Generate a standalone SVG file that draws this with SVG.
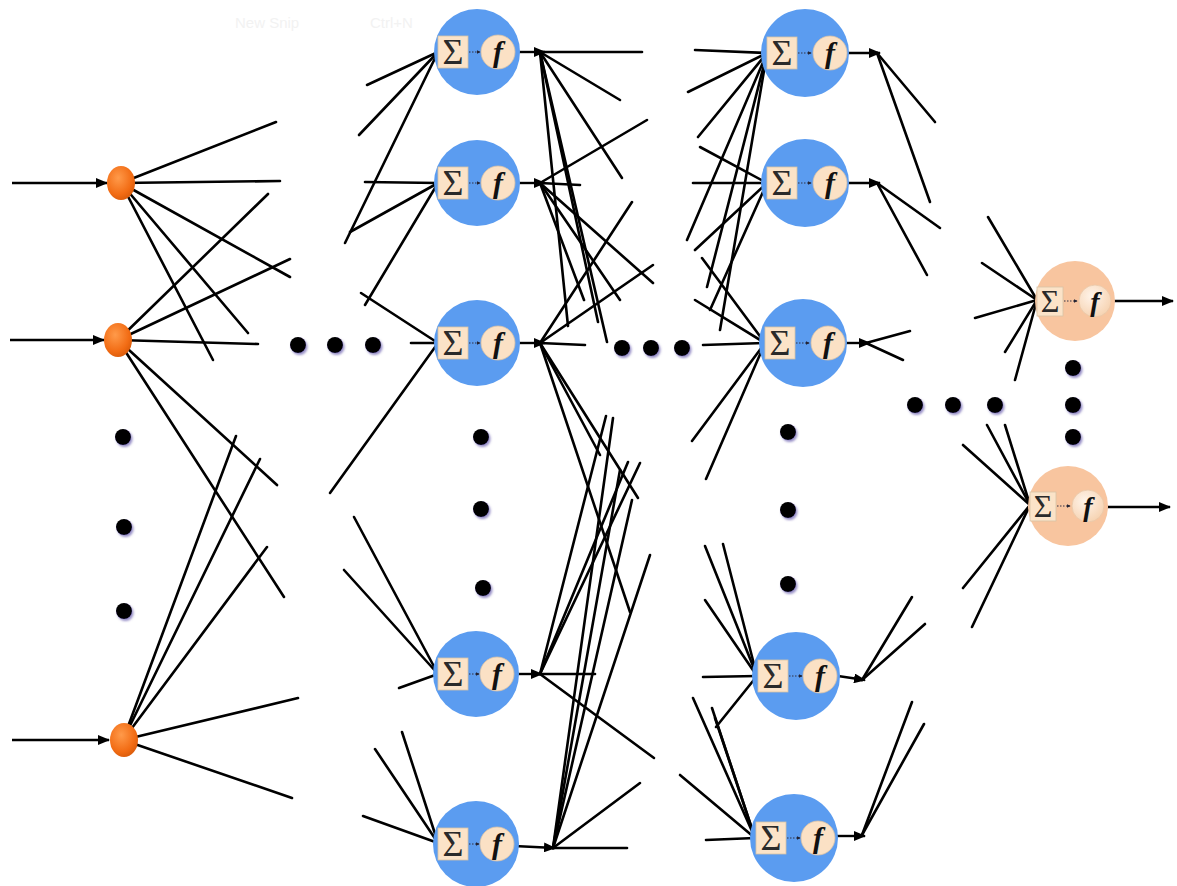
<svg xmlns="http://www.w3.org/2000/svg" width="1177" height="886" viewBox="0 0 1177 886">
<defs>
<marker id="ah" viewBox="0 0 12 10" refX="11" refY="5" markerWidth="12" markerHeight="10" markerUnits="userSpaceOnUse" orient="auto"><path d="M0,0 L12,5 L0,10 z" fill="#000"/></marker>
<marker id="sm" viewBox="0 0 6 6" refX="5" refY="3" markerWidth="4" markerHeight="4" markerUnits="userSpaceOnUse" orient="auto"><path d="M0,0 L6,3 L0,6 z" fill="#223"/></marker>
<radialGradient id="og" cx="0.4" cy="0.35" r="0.7"><stop offset="0" stop-color="#ff9a4a"/><stop offset="0.7" stop-color="#f26c14"/><stop offset="1" stop-color="#d85a0a"/></radialGradient>
<radialGradient id="fg" cx="0.4" cy="0.35" r="0.7"><stop offset="0" stop-color="#fff4ea"/><stop offset="1" stop-color="#f6d2b0"/></radialGradient>
<filter id="sh" x="-50%" y="-50%" width="200%" height="200%"><feDropShadow dx="1.5" dy="2" stdDeviation="1" flood-color="#5040a0" flood-opacity="0.6"/></filter>
</defs>
<style>
.ln{stroke:#000;stroke-width:2.6;stroke-linecap:round;fill:none}
.ar{stroke:#000;stroke-width:2.4;fill:none;marker-end:url(#ah)}
.hb{fill:#5b9cf0}
.ob{fill:#f8c59f}
.sb{fill:#fbe3c8;stroke:#d8c3a6;stroke-width:0.8}
.fc{fill:#fbe1c5;stroke:#d9c2a5;stroke-width:0.8}
.fo{fill:url(#fg);stroke:#e8c8a8;stroke-width:0.8}
.sig{font-family:"Liberation Serif",serif;font-size:36px;fill:#2a2a2a;text-anchor:middle}
.fx{font-family:"Liberation Serif",serif;font-style:italic;font-weight:bold;font-size:30px;fill:#111;text-anchor:middle}
.lk{stroke:#334;stroke-width:1;stroke-dasharray:1.5 1.5;marker-end:url(#sm)}
.dot{fill:#000;filter:url(#sh)}
.ghost{font-family:"Liberation Sans",sans-serif;font-size:15px;fill:#f2f2f2}
</style>
<rect width="1177" height="886" fill="#fff"/>
<text class="ghost" x="235" y="28">New Snip</text>
<text class="ghost" x="370" y="28">Ctrl+N</text>

<g id="connectors">
<line class="ar" x1="12" y1="183" x2="107" y2="183"/>
<line class="ar" x1="10" y1="340" x2="104" y2="340"/>
<line class="ar" x1="12" y1="740" x2="109" y2="740"/>
<g class="ln">
<line x1="121" y1="183" x2="276" y2="122"/><line x1="121" y1="183" x2="280" y2="181"/><line x1="121" y1="183" x2="290" y2="277"/><line x1="121" y1="183" x2="248" y2="333"/><line x1="121" y1="183" x2="213" y2="360"/>
<line x1="118" y1="340" x2="268" y2="194"/><line x1="118" y1="340" x2="290" y2="259"/><line x1="118" y1="340" x2="258" y2="344"/><line x1="118" y1="340" x2="277" y2="485"/><line x1="118" y1="340" x2="284" y2="597"/>
<line x1="123" y1="740" x2="236" y2="436"/><line x1="123" y1="740" x2="260" y2="459"/><line x1="123" y1="740" x2="267" y2="547"/><line x1="123" y1="740" x2="298" y2="698"/><line x1="123" y1="740" x2="292" y2="798"/>
<line x1="438" y1="52" x2="367" y2="85"/><line x1="438" y1="52" x2="359" y2="135"/><line x1="438" y1="52" x2="345" y2="243"/>
<line x1="438" y1="183" x2="365" y2="182"/><line x1="438" y1="183" x2="350" y2="232"/><line x1="438" y1="183" x2="365" y2="305"/>
<line x1="438" y1="343" x2="361" y2="293"/><line x1="438" y1="343" x2="411" y2="343"/><line x1="438" y1="343" x2="330" y2="493"/>
<line x1="438" y1="674" x2="354" y2="517"/><line x1="438" y1="674" x2="344" y2="570"/><line x1="438" y1="674" x2="399" y2="688"/>
<line x1="438" y1="843" x2="402" y2="732"/><line x1="438" y1="843" x2="375" y2="749"/><line x1="438" y1="843" x2="363" y2="816"/>
<line x1="540" y1="52" x2="642" y2="52"/><line x1="540" y1="52" x2="620" y2="100"/><line x1="540" y1="52" x2="622" y2="178"/><line x1="540" y1="52" x2="568" y2="326"/><line x1="540" y1="52" x2="598" y2="322"/><line x1="540" y1="52" x2="607" y2="342"/>
<line x1="540" y1="183" x2="580" y2="185"/><line x1="540" y1="183" x2="647" y2="120"/><line x1="540" y1="183" x2="653" y2="283"/><line x1="540" y1="183" x2="620" y2="300"/><line x1="540" y1="183" x2="584" y2="300"/>
<line x1="540" y1="343" x2="585" y2="345"/><line x1="540" y1="343" x2="632" y2="202"/><line x1="540" y1="343" x2="653" y2="265"/><line x1="540" y1="343" x2="638" y2="498"/><line x1="540" y1="343" x2="630" y2="612"/><line x1="540" y1="343" x2="600" y2="455"/>
<line x1="540" y1="674" x2="595" y2="674"/><line x1="540" y1="674" x2="654" y2="758"/><line x1="540" y1="674" x2="606" y2="416"/><line x1="540" y1="674" x2="628" y2="462"/><line x1="540" y1="674" x2="640" y2="463"/>
<line x1="553" y1="848" x2="627" y2="848"/><line x1="553" y1="848" x2="640" y2="783"/><line x1="553" y1="848" x2="613" y2="418"/><line x1="553" y1="848" x2="632" y2="500"/><line x1="553" y1="848" x2="650" y2="555"/><line x1="553" y1="848" x2="620" y2="470"/>
<line x1="767" y1="53" x2="695" y2="50"/><line x1="767" y1="53" x2="688" y2="92"/><line x1="767" y1="53" x2="698" y2="137"/><line x1="767" y1="53" x2="687" y2="240"/><line x1="767" y1="53" x2="707" y2="287"/><line x1="767" y1="53" x2="720" y2="330"/>
<line x1="767" y1="183" x2="700" y2="147"/><line x1="767" y1="183" x2="693" y2="183"/><line x1="767" y1="183" x2="695" y2="250"/><line x1="767" y1="183" x2="710" y2="310"/>
<line x1="765" y1="343" x2="702" y2="258"/><line x1="765" y1="343" x2="695" y2="300"/><line x1="765" y1="343" x2="703" y2="345"/><line x1="765" y1="343" x2="692" y2="441"/><line x1="765" y1="343" x2="706" y2="479"/>
<line x1="757" y1="676" x2="705" y2="546"/><line x1="757" y1="676" x2="723" y2="544"/><line x1="757" y1="676" x2="705" y2="600"/><line x1="757" y1="676" x2="703" y2="677"/><line x1="757" y1="676" x2="716" y2="727"/>
<line x1="755" y1="838" x2="693" y2="698"/><line x1="755" y1="838" x2="712" y2="708"/><line x1="755" y1="838" x2="715" y2="718"/><line x1="755" y1="838" x2="680" y2="775"/><line x1="755" y1="838" x2="706" y2="840"/>
<line x1="877" y1="53" x2="935" y2="122"/><line x1="877" y1="53" x2="930" y2="202"/>
<line x1="877" y1="183" x2="940" y2="228"/><line x1="877" y1="183" x2="927" y2="275"/>
<line x1="866" y1="343" x2="910" y2="331"/><line x1="866" y1="343" x2="903" y2="360"/>
<line x1="862" y1="680" x2="912" y2="597"/><line x1="862" y1="680" x2="925" y2="624"/>
<line x1="862" y1="835" x2="912" y2="702"/><line x1="862" y1="835" x2="924" y2="724"/>
<line x1="1037" y1="300" x2="988" y2="217"/><line x1="1037" y1="300" x2="982" y2="263"/><line x1="1037" y1="300" x2="975" y2="318"/><line x1="1037" y1="300" x2="1005" y2="352"/><line x1="1037" y1="300" x2="1015" y2="380"/>
<line x1="1030" y1="505" x2="987" y2="425"/><line x1="1030" y1="505" x2="1005" y2="425"/><line x1="1030" y1="505" x2="963" y2="445"/><line x1="1030" y1="505" x2="963" y2="588"/><line x1="1030" y1="505" x2="972" y2="627"/>
</g>
<line class="ar" x1="516" y1="52" x2="545" y2="52"/>
<line class="ar" x1="516" y1="183" x2="545" y2="183"/>
<line class="ar" x1="516" y1="343" x2="545" y2="343"/>
<line class="ar" x1="515" y1="674" x2="542" y2="674"/>
<line class="ar" x1="514" y1="846" x2="555" y2="848"/>
<line class="ar" x1="847" y1="53" x2="880" y2="53"/>
<line class="ar" x1="846" y1="183" x2="880" y2="183"/>
<line class="ar" x1="844" y1="343" x2="870" y2="343"/>
<line class="ar" x1="838" y1="676" x2="865" y2="680"/>
<line class="ar" x1="835" y1="836" x2="865" y2="836"/>
<line class="ar" x1="1111" y1="301" x2="1173" y2="301"/>
<line class="ar" x1="1104" y1="507" x2="1170" y2="507"/>
</g>

<g id="in1"><ellipse cx="121" cy="183" rx="14" ry="17" fill="url(#og)"/></g>
<g id="in2"><ellipse cx="118" cy="340" rx="14" ry="17" fill="url(#og)"/></g>
<g id="in3"><ellipse cx="124" cy="740" rx="14" ry="17" fill="url(#og)"/></g>

<g id="h1a" transform="translate(477,52)"><circle class="hb" r="43"/><rect class="sb" x="-39" y="-16" width="30" height="32"/><text class="sig" x="-24" y="12">Σ</text><line class="lk" x1="-8" y1="0" x2="3" y2="0"/><circle class="fc" cx="21" r="17"/><text class="fx" x="21" y="10">f</text></g>
<g id="h1b" transform="translate(477,183)"><circle class="hb" r="43"/><rect class="sb" x="-39" y="-16" width="30" height="32"/><text class="sig" x="-24" y="12">Σ</text><line class="lk" x1="-8" y1="0" x2="3" y2="0"/><circle class="fc" cx="21" r="17"/><text class="fx" x="21" y="10">f</text></g>
<g id="h1c" transform="translate(477,343)"><circle class="hb" r="43"/><rect class="sb" x="-39" y="-16" width="30" height="32"/><text class="sig" x="-24" y="12">Σ</text><line class="lk" x1="-8" y1="0" x2="3" y2="0"/><circle class="fc" cx="21" r="17"/><text class="fx" x="21" y="10">f</text></g>
<g id="h1d" transform="translate(476,674)"><circle class="hb" r="43"/><rect class="sb" x="-38" y="-16" width="30" height="32"/><text class="sig" x="-23" y="12">Σ</text><line class="lk" x1="-7" y1="0" x2="3" y2="0"/><circle class="fc" cx="21" r="17"/><text class="fx" x="21" y="10">f</text></g>
<g id="h1e" transform="translate(476,844)"><circle class="hb" r="43"/><rect class="sb" x="-38" y="-16" width="30" height="32"/><text class="sig" x="-23" y="12">Σ</text><line class="lk" x1="-7" y1="0" x2="3" y2="0"/><circle class="fc" cx="21" r="17"/><text class="fx" x="21" y="10">f</text></g>

<g id="h2a" transform="translate(805,53)"><circle class="hb" r="44"/><rect class="sb" x="-38" y="-16" width="30" height="32"/><text class="sig" x="-23" y="12">Σ</text><line class="lk" x1="-7" y1="0" x2="6" y2="0"/><circle class="fc" cx="25" r="17"/><text class="fx" x="25" y="10">f</text></g>
<g id="h2b" transform="translate(805,183)"><circle class="hb" r="44"/><rect class="sb" x="-38" y="-16" width="30" height="32"/><text class="sig" x="-23" y="12">Σ</text><line class="lk" x1="-7" y1="0" x2="6" y2="0"/><circle class="fc" cx="25" r="17"/><text class="fx" x="25" y="10">f</text></g>
<g id="h2c" transform="translate(803,343)"><circle class="hb" r="44"/><rect class="sb" x="-38" y="-16" width="30" height="32"/><text class="sig" x="-23" y="12">Σ</text><line class="lk" x1="-7" y1="0" x2="6" y2="0"/><circle class="fc" cx="25" r="17"/><text class="fx" x="25" y="10">f</text></g>
<g id="h2d" transform="translate(796,676)"><circle class="hb" r="44"/><rect class="sb" x="-38" y="-16" width="30" height="32"/><text class="sig" x="-23" y="12">Σ</text><line class="lk" x1="-7" y1="0" x2="6" y2="0"/><circle class="fc" cx="24" r="17"/><text class="fx" x="24" y="10">f</text></g>
<g id="h2e" transform="translate(794,838)"><circle class="hb" r="44"/><rect class="sb" x="-38" y="-16" width="30" height="32"/><text class="sig" x="-23" y="12">Σ</text><line class="lk" x1="-7" y1="0" x2="6" y2="0"/><circle class="fc" cx="24" r="17"/><text class="fx" x="24" y="10">f</text></g>

<g id="out1" transform="translate(1075,301)"><circle class="ob" r="40"/><rect class="sb" x="-38" y="-14" width="26" height="29"/><text class="sig" x="-25" y="11" style="font-size:32px">Σ</text><line class="lk" x1="-11" y1="0" x2="2" y2="0"/><circle class="fo" cx="20" r="16"/><text class="fx" x="20" y="10" style="font-size:28px">f</text></g>
<g id="out2" transform="translate(1068,506)"><circle class="ob" r="40"/><rect class="sb" x="-38" y="-14" width="26" height="29"/><text class="sig" x="-25" y="11" style="font-size:32px">Σ</text><line class="lk" x1="-11" y1="0" x2="2" y2="0"/><circle class="fo" cx="20" r="16"/><text class="fx" x="20" y="10" style="font-size:28px">f</text></g>

<g id="dots">
<circle class="dot" cx="123" cy="437" r="8"/><circle class="dot" cx="124" cy="527" r="8"/><circle class="dot" cx="124" cy="611" r="8"/>
<circle class="dot" cx="298" cy="345" r="8"/><circle class="dot" cx="335" cy="345" r="8"/><circle class="dot" cx="373" cy="345" r="8"/>
<circle class="dot" cx="481" cy="437" r="8"/><circle class="dot" cx="481" cy="509" r="8"/><circle class="dot" cx="483" cy="588" r="8"/>
<circle class="dot" cx="622" cy="348" r="8"/><circle class="dot" cx="651" cy="348" r="8"/><circle class="dot" cx="682" cy="348" r="8"/>
<circle class="dot" cx="788" cy="432" r="8"/><circle class="dot" cx="788" cy="510" r="8"/><circle class="dot" cx="788" cy="584" r="8"/>
<circle class="dot" cx="915" cy="405" r="8"/><circle class="dot" cx="953" cy="405" r="8"/><circle class="dot" cx="995" cy="405" r="8"/>
<circle class="dot" cx="1073" cy="368" r="8"/><circle class="dot" cx="1073" cy="405" r="8"/><circle class="dot" cx="1073" cy="437" r="8"/>
</g>
</svg>
